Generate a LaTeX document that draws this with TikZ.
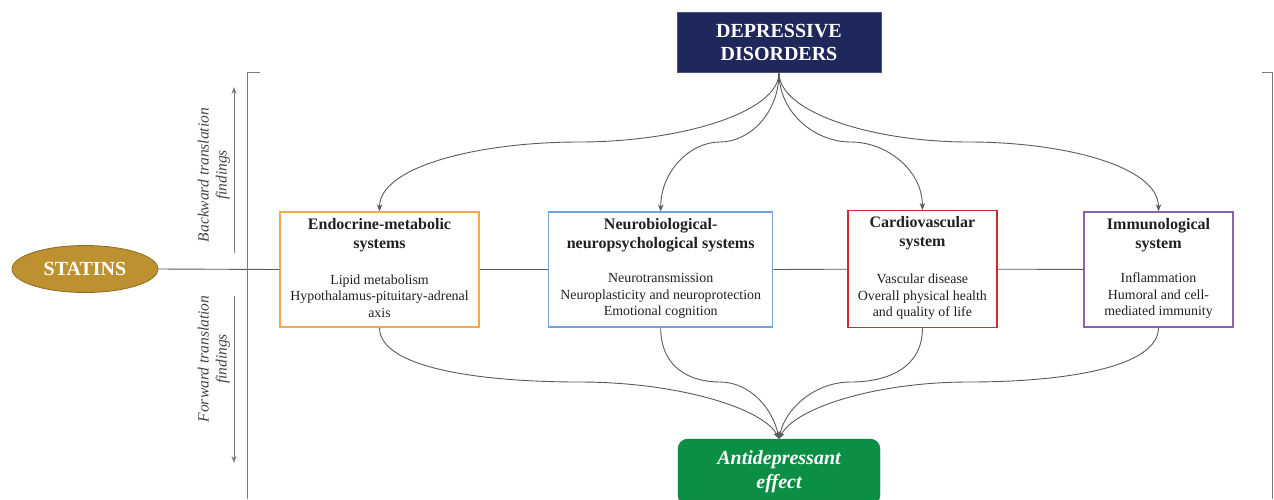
\documentclass[tikz,border=0pt]{standalone}
\usepackage{fontspec}
\setmainfont{Liberation Serif}
\usetikzlibrary{arrows.meta,shapes.geometric}
\definecolor{navy}{HTML}{1F285A}
\definecolor{effgreen}{HTML}{0B8F45}
\definecolor{gold}{HTML}{BD9130}
\definecolor{golddark}{HTML}{8A6A20}
\definecolor{boxorange}{HTML}{F5A94E}
\definecolor{boxblue}{HTML}{6FA5DB}
\definecolor{boxred}{HTML}{D3282F}
\definecolor{boxpurple}{HTML}{8A63AE}
\definecolor{linegray}{HTML}{5A5A5A}
\definecolor{sidegray}{HTML}{7A7A7A}
\definecolor{txt}{HTML}{231F20}
\begin{document}
\begin{tikzpicture}[x=1pt,y=-1pt,
  conn/.style={draw=linegray, line width=0.9pt},
  arr/.style={conn, -{Stealth[length=7pt,width=5.5pt]}},
  sidearr/.style={draw=sidegray, line width=0.7pt, -{Stealth[length=7pt,width=5pt]}},
  bracket/.style={draw=sidegray, line width=0.9pt},
  sysbox/.style={draw=#1, line width=1.4pt, fill=white, inner sep=0pt},
  ttl/.style={align=center, inner sep=0pt, text=txt, font=\fontsize{16}{19}\selectfont\bfseries},
  body/.style={align=center, inner sep=0pt, text=txt, font=\fontsize{13.9}{16.5}\selectfont},
  side/.style={align=center, inner sep=0pt, rotate=90, text=txt!85, font=\fontsize{15.5}{18}\selectfont\itshape}
]
\useasboundingbox (0,0) rectangle (1274,499);

% top and bottom nodes
\node[fill=navy, draw=navy!80, minimum width=204pt, minimum height=60.5pt, inner sep=0pt,
      align=center, text=white, font=\fontsize{20}{22.7}\selectfont\bfseries]
      (dep) at (779,42.3) {DEPRESSIVE\\DISORDERS};
\node[fill=effgreen, draw=effgreen!80!black, rounded corners=10pt, minimum width=202pt,
      minimum height=66pt, inner sep=0pt, align=center, text=white,
      font=\fontsize{20}{24}\selectfont\bfseries\itshape]
      (eff) at (779,472) {Antidepressant\\effect};

% statins
\node[ellipse, fill=gold, draw=golddark, line width=0.8pt, minimum width=146pt,
      minimum height=47pt, inner sep=0pt, text=white,
      font=\fontsize{20}{24}\selectfont\bfseries] (stat) at (85,269) {STATINS};

% system boxes
\node[sysbox=boxorange, minimum width=199pt, minimum height=115pt] (b1) at (379.5,269.5) {};
\node[sysbox=boxblue, minimum width=224pt, minimum height=115pt] (b2) at (660.7,269.5) {};
\node[sysbox=boxred, minimum width=149pt, minimum height=117pt] (b3) at (922.4,269.2) {};
\node[sysbox=boxpurple, minimum width=149pt, minimum height=115pt] (b4) at (1158.5,269.4) {};

\node[ttl] (t1) at (379.5,235.5) {Endocrine-metabolic\\systems};
\node[body] (d1) at (379.5,296) {Lipid metabolism\\Hypothalamus-pituitary-adrenal\\axis};
\node[ttl] (t2) at (660.7,235.5) {Neurobiological-\\neuropsychological systems};
\node[body] (d2) at (660.7,296) {Neurotransmission\\Neuroplasticity and neuroprotection\\Emotional cognition};
\node[ttl] (t3) at (922.4,233.5) {Cardiovascular\\system};
\node[body] (d3) at (922.4,297) {Vascular disease\\Overall physical health\\and quality of life};
\node[ttl] (t4) at (1158.5,235.5) {Immunological\\system};
\node[body] (d4) at (1158.5,296) {Inflammation\\Humoral and cell-\\mediated immunity};

% horizontal chain
\draw[conn] (stat.east) -- (b1.west);
\draw[conn] (b1.east) -- (b2.west);
\draw[conn] (b2.east) -- (b3.west);
\draw[conn] (b3.east) -- (b4.west);

% brackets
\coordinate (lb1) at (260,72);
\coordinate (lb2) at (247,72);
\coordinate (lb3) at (247,499);
\coordinate (rb1) at (1262,72);
\coordinate (rb2) at (1272.5,72);
\coordinate (rb3) at (1272.5,499);
\draw[bracket] (lb1) -- (lb2) -- (lb3);
\draw[bracket] (rb1) -- (rb2) -- (rb3);

% side labels and arrows
\node[side] (back) at (214,175) {Backward translation\\findings};
\node[side] (fwd) at (214,359) {Forward translation\\findings};
\coordinate (ua1) at (234,253);
\coordinate (ua2) at (234,87);
\coordinate (da1) at (234,296);
\coordinate (da2) at (234,463);
\draw[sidearr] (ua1) -- (ua2);
\draw[sidearr] (da1) -- (da2);

% curves from depressive disorders
\coordinate (m1) at (579.25,142);
\coordinate (m2) at (719.9,142);
\coordinate (m3) at (850.7,142);
\coordinate (m4) at (968.75,142);
\draw[arr] (dep.south) .. controls +(0,40) and +(100,0) .. (m1)
                       .. controls +(-100,0) and +(0,-45) .. (b1.north);
\draw[arr] (dep.south) .. controls +(0,40) and +(30,0) .. (m2)
                       .. controls +(-30,0) and +(0,-40) .. (b2.north);
\draw[arr] (dep.south) .. controls +(0,40) and +(-36,0) .. (m3)
                       .. controls +(36,0) and +(0,-40) .. (b3.north);
\draw[arr] (dep.south) .. controls +(0,40) and +(-95,0) .. (m4)
                       .. controls +(95,0) and +(0,-45) .. (b4.north);

% curves into antidepressant effect
\coordinate (n1) at (579.25,382);
\coordinate (n2) at (719.9,382);
\coordinate (n3) at (850.7,382);
\coordinate (n4) at (968.75,382);
\draw[arr] (b1.south) .. controls +(0,40) and +(-100,0) .. (n1)
                      .. controls +(100,0) and +(-15,-30) .. (eff.north);
\draw[arr] (b2.south) .. controls +(0,40) and +(-30,0) .. (n2)
                      .. controls +(30,0) and +(-6,-30) .. (eff.north);
\draw[arr] (b3.south) .. controls +(0,40) and +(36,0) .. (n3)
                      .. controls +(-36,0) and +(6,-30) .. (eff.north);
\draw[arr] (b4.south) .. controls +(0,40) and +(95,0) .. (n4)
                      .. controls +(-95,0) and +(15,-30) .. (eff.north);
\end{tikzpicture}
\end{document}
